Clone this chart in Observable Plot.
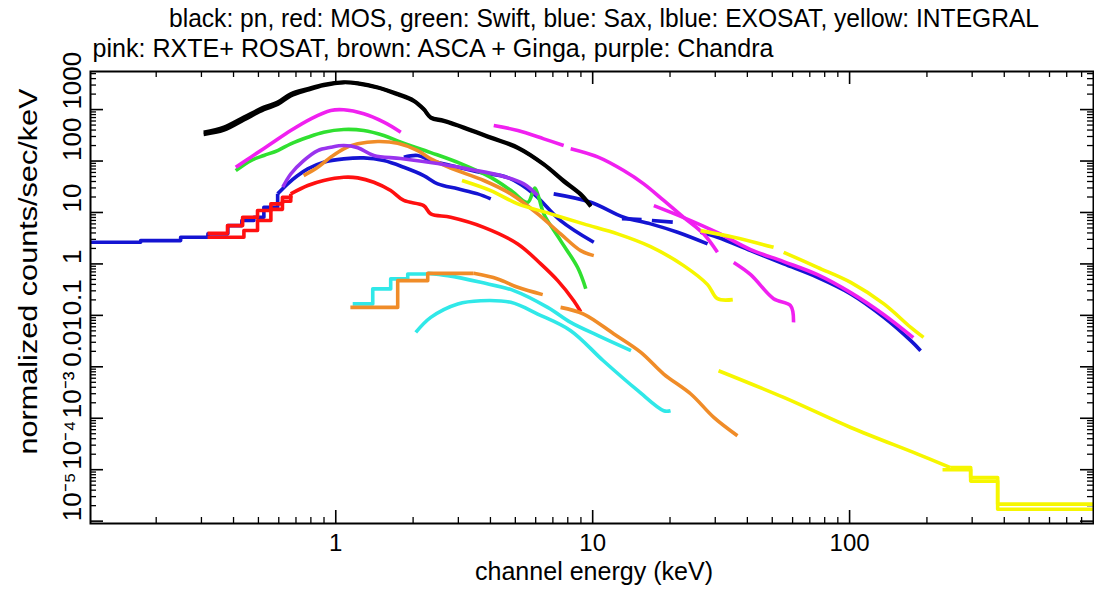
<!DOCTYPE html>
<html><head><meta charset="utf-8">
<script src="https://cdn.jsdelivr.net/npm/d3@7"></script>
<script src="https://cdn.jsdelivr.net/npm/@observablehq/plot@0.6"></script>
<style>body{margin:0;background:#fff}</style>
</head><body><div id="chart"></div>
<script>
// ---- text ----
const titleLine1 = "black: pn, red: MOS, green: Swift, blue: Sax, lblue: EXOSAT, yellow: INTEGRAL";
const titleLine2 = "pink: RXTE+ ROSAT, brown: ASCA + Ginga, purple: Chandra";
const xLabel = "channel energy (keV)";
const yLabel = "normalized counts/sec/keV";
const xTickValues = [1, 10, 100];
const xTickLabels = ["1", "10", "100"];
const yTickValues = [1e-5, 1e-4, 1e-3, 0.01, 0.1, 1, 10, 100, 1000];
const yTickLabels = ["10\u207B\u2075", "10\u207B\u2074", "10\u207B\u00B3", "0.01", "0.1", "1", "10", "100", "1000"];

// ---- series: [energy keV, normalized counts/sec/keV] ----
const pnA = [[0.306,363],[0.367,455],[0.439,711],[0.525,1114],[0.594,1393],[0.668,2029],[0.778,2540],[0.898,3077],[1.074,3412],[1.218,3264],[1.457,2729],[1.742,2029],[2.012,1503],[2.199,1037],[2.343,711],[2.633,614],[3.148,455],[4.011,290],[5.105,185],[6.445,88],[7.71,42],[8.98,23],[9.83,13.6]];
const pnB = [[0.306,330],[0.367,400],[0.439,630],[0.525,1000],[0.594,1260],[0.668,1850],[0.778,2400],[0.898,2950],[1.074,3350],[1.218,3200],[1.457,2650],[1.742,1950],[2.012,1450],[2.199,1000],[2.343,690],[2.633,590],[3.148,440],[4.011,280],[5.105,178],[6.445,85],[7.71,40],[8.98,22],[9.83,13]];
const mosStepA = [[0.317,3.94],[0.379,5.56],[0.434,8.07],[0.496,10.9],[0.559,14.7],[0.620,19.8],[0.668,23.0]];
const mosStepB = [[0.317,3.29],[0.439,4.45],[0.496,6.96],[0.559,11.5],[0.620,16.5],[0.668,21.0]];
const mosSmooth = [[0.668,23.0],[0.778,33.4],[0.898,41.8],[1.074,48.4],[1.218,47.1],[1.406,38.7],[1.636,26.7],[1.84,17.1],[2.199,13.6],[2.343,9.4],[2.80,8.07],[3.77,5.15],[5.11,2.45],[6.28,1.0],[7.31,0.473],[8.44,0.193],[8.98,0.118]];
const swift = [[0.408,65],[0.467,102],[0.525,128],[0.594,160],[0.668,216],[0.778,290],[0.898,363],[1.074,410],[1.285,392],[1.538,313],[1.791,232],[2.343,146],[3.065,89],[4.011,48],[4.797,27],[5.586,15.6],[5.95,30],[6.2,18],[6.445,9.5],[7.5,2.84],[8.74,0.85],[9.4,0.33]];
const saxLecsStep = [[0.111,2.63],[0.174,2.84],[0.249,3.29],[0.318,3.84],[0.380,5.56],[0.431,6.96],[0.480,8.07],[0.525,12.6],[0.594,23.0]];
const saxLecs = [[0.594,23.0],[0.650,36.0],[0.711,52.2],[0.778,70.5],[0.898,94.8],[1.074,110],[1.285,115],[1.538,102],[1.84,75.7],[2.199,52.2],[2.494,36.0],[2.985,28.8],[3.57,23.0],[4.011,18.4]];
const saxMecs = [[1.84,119],[2.085,128],[2.343,102],[2.80,81.7],[3.67,59.7],[4.67,47.7],[5.89,23.0],[7.50,6.96],[10.1,2.63]];
const saxHpg = [[7.05,23.0],[9.83,15.8],[13.2,8.07],[16.8,6.0],[21.4,4.12],[28.0,2.45]];
const saxDashA = [[13.0,7.6],[15.5,7.3]];
const saxDashB = [[17.0,7.0],[20.5,6.5]];
const saxPds = [[26.3,4.12],[30.6,3.29],[41.2,1.81],[55.4,1.0],[75.0,0.548],[101,0.261],[136,0.0915],[173,0.0322],[189,0.0206]];
const exoStep = [[1.164,0.167],[1.393,0.327],[1.636,0.511],[1.906,0.639],[2.28,0.656]];
const exoUpper = [[2.28,0.656],[2.73,0.592],[3.67,0.438],[4.93,0.303],[6.68,0.143],[8.21,0.073],[10.5,0.0403],[14.1,0.0206]];
const exoLower = [[2.048,0.0467],[2.343,0.0915],[2.985,0.167],[3.67,0.193],[4.80,0.179],[6.11,0.106],[8.21,0.0504],[11.0,0.0131],[15.0,0.00343],[18.9,0.0014],[20.1,0.0014]];
const jemx = [[3.1,42],[4.011,26.7],[5.11,14.7],[6.87,9.4],[9.22,6.0],[12.5,3.84],[16.8,2.17],[22.6,0.927],[28.0,0.396],[30.6,0.211],[35.1,0.202]];
const isgriA = [[26.3,4.44],[35.4,3.29],[50.6,2.10]];
const isgriB = [[55.4,1.68],[75.0,0.859],[101,0.438],[136,0.167],[173,0.0584],[194,0.0373]];
const spi = [[30.9,0.0084],[55.4,0.00254],[101,6.62e-4],[184,2.01e-4],[247,1.10e-4]];
const spiStepA = [[247,1.10e-4],[296,7.05e-5],[377,2.14e-5],[898,2.14e-5]];
const spiStepB = [[230,1.0e-4],[296,6.0e-5],[377,1.7e-5],[898,1.7e-5]];
const rosat = [[0.408,76],[0.467,119],[0.559,216],[0.668,392],[0.800,662],[0.956,960],[1.074,991],[1.285,828],[1.538,569],[1.791,363]];
const pcaA = [[4.12,491],[5.11,392],[6.45,270],[7.71,200]];
const pcaB = [[8.21,173],[10.5,119],[13.2,65.3],[15.8,36.0],[18.9,17.1],[22.6,8.07],[27.0,3.84],[30.6,1.68]];
const hexte = [[17.3,13.6],[22.6,7.96],[30.6,4.06],[41.2,1.90],[55.4,1.11],[75.0,0.619],[101,0.277],[136,0.103],[177,0.0368]];
const hexteLow = [[35.4,1.07],[41.2,0.62],[50.6,0.211],[58.9,0.155],[60.5,0.073]];
const ascaTop = [[0.750,52.2],[0.851,75.7],[0.956,119],[1.074,173],[1.218,216],[1.457,239],[1.742,222],[2.085,160],[2.343,110],[2.80,73.1],[3.77,41.8],[4.80,23.0],[6.11,9.4],[7.50,3.84],[8.98,1.81],[10.1,1.45]];
const ascaLowStep = [[1.14,0.143],[1.742,0.473],[2.28,0.656],[3.44,0.656]];
const ascaLow = [[3.44,0.656],[4.27,0.511],[5.11,0.351],[6.39,0.253]];
const ginga = [[7.50,0.143],[9.22,0.106],[12.1,0.0435],[15.4,0.0191],[18.9,0.00724],[24.1,0.00296],[29.6,0.00104],[36.6,4.57e-4]];
const chandra = [[0.622,31],[0.668,56],[0.750,102],[0.851,160],[0.956,185],[1.074,200],[1.218,181],[1.406,128],[1.791,112],[2.494,89.4],[3.35,68.4],[4.385,52.2],[5.39,36.0],[6.11,21.3]];

// ---- colours ----
const C = {black:"#000000", red:"#ff1010", green:"#30e030", blue:"#1414d2", cyan:"#30e8e8", yellow:"#f6f600", magenta:"#f020f0", orange:"#f08c28", purple:"#9933ee"};

const segments = [
  [saxLecsStep, C.blue, "step-after"], [saxLecs, C.blue], [saxMecs, C.blue], [saxHpg, C.blue], [saxDashA, C.blue], [saxDashB, C.blue], [saxPds, C.blue],
  [pnB, C.black], [pnA, C.black],
  [mosStepB, C.red, "step-after"], [mosStepA, C.red, "step-after"], [mosSmooth, C.red],
  [swift, C.green],
  [exoStep, C.cyan, "step-after"], [exoUpper, C.cyan], [exoLower, C.cyan],
  [ascaTop, C.orange], [ascaLowStep, C.orange, "step-after"], [ascaLow, C.orange], [ginga, C.orange],
  [chandra, C.purple],
  [rosat, C.magenta], [pcaA, C.magenta], [pcaB, C.magenta], [hexte, C.magenta], [hexteLow, C.magenta],
  [jemx, C.yellow], [isgriA, C.yellow], [isgriB, C.yellow], [spi, C.yellow], [spiStepA, C.yellow, "step-after"], [spiStepB, C.yellow, "step-after"]
];

const W = 1094, H = 589, mL = 90, mR = 1, mT = 71, mB = 66;
const fw = W - mL - mR, fh = H - mT - mB;
const xDomain = [0.111, 890], yDomain = [9e-6, 5500];

const xMajor = [1, 10, 100];
const xMinor = [];
for (const d of [0.1, 1, 10, 100]) for (let k = 2; k <= 9; k++) { const v = d * k; if (v > xDomain[0] && v < xDomain[1]) xMinor.push(v); }
const yMajor = [1e-5,1e-4,1e-3,1e-2,1e-1,1,10,100,1000];
const yMinor = [];
for (const d of [1e-6,1e-5,1e-4,1e-3,1e-2,1e-1,1,10,100,1000]) for (let k = 2; k <= 9; k++) { const v = d * k; if (v > yDomain[0] && v < yDomain[1]) yMinor.push(v); }

const maj = 13, mnr = 6;
const marks = [
  Plot.tickX(xMajor, {x: d => d, insetTop: fh - maj, strokeWidth: 1.6}),
  Plot.tickX(xMinor, {x: d => d, insetTop: fh - mnr, strokeWidth: 1.3}),
  Plot.tickX(xMajor, {x: d => d, insetBottom: fh - maj, strokeWidth: 1.6}),
  Plot.tickX(xMinor, {x: d => d, insetBottom: fh - mnr, strokeWidth: 1.3}),
  Plot.tickY(yMajor, {y: d => d, insetRight: fw - maj, strokeWidth: 1.6}),
  Plot.tickY(yMinor, {y: d => d, insetRight: fw - mnr, strokeWidth: 1.3}),
  Plot.tickY(yMajor, {y: d => d, insetLeft: fw - maj, strokeWidth: 1.6}),
  Plot.tickY(yMinor, {y: d => d, insetLeft: fw - mnr, strokeWidth: 1.3}),
  ...segments.map(([data, color, curve]) => Plot.line(data, {x: d => d[0], y: d => d[1], stroke: color, strokeWidth: color === C.black ? 3.6 : 3.6, curve: curve || "catmull-rom", strokeLinejoin: "round", strokeLinecap: "butt"})),
  Plot.frame({stroke: "#000", strokeWidth: 2}),
  Plot.text(xTickValues, {x: d => d, text: (d, i) => xTickLabels[i], frameAnchor: "bottom", dy: 27, fontSize: 24}),
  Plot.text(yTickValues, {y: d => d, text: (d, i) => yTickLabels[i], frameAnchor: "left", dx: -18, rotate: -90, fontSize: 26}),
  Plot.text([xLabel], {text: d => d, frameAnchor: "bottom", dx: 2, dy: 56, fontSize: 25, className: "xlab"}),
  Plot.text([yLabel], {text: d => d, frameAnchor: "left", textAnchor: "start", dx: -62, dy: 157, rotate: -90, fontSize: 25, className: "ylab"}),
  Plot.text([titleLine1], {text: d => d, frameAnchor: "top", dx: 12, dy: -63, fontSize: 26, className: "t1"}),
  Plot.text([titleLine2], {text: d => d, frameAnchor: "top-left", textAnchor: "start", dx: 2, dy: -33, fontSize: 26, className: "t2"})
];

const chart = Plot.plot({
  width: W, height: H,
  marginLeft: mL, marginRight: mR, marginTop: mT, marginBottom: mB,
  style: {fontFamily: "'Liberation Sans', Arial, sans-serif", background: "#fff", color: "#000"},
  x: {type: "log", domain: xDomain, axis: null},
  y: {type: "log", domain: yDomain, axis: null},
  marks
});
const svg = d3.select(chart);
svg.selectAll(".t1 text").attr("textLength", 870).attr("lengthAdjust", "spacingAndGlyphs");
svg.selectAll(".t2 text").attr("textLength", 681).attr("lengthAdjust", "spacingAndGlyphs");
svg.selectAll(".xlab text").attr("textLength", 238).attr("lengthAdjust", "spacingAndGlyphs");
svg.selectAll(".ylab text").attr("textLength", 366).attr("lengthAdjust", "spacingAndGlyphs");
document.getElementById("chart").appendChild(chart);
</script>
</body></html>
